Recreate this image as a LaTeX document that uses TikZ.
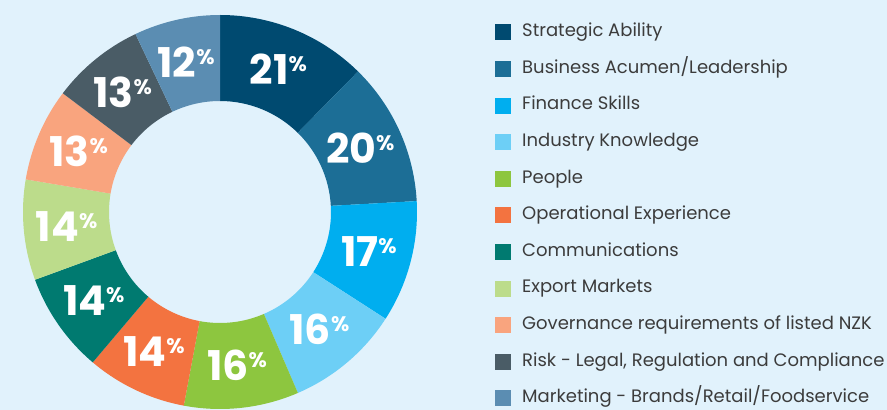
\documentclass[tikz,border=0pt]{standalone}
\usepackage{fontspec}
\setmainfont{Poppins}
\usepackage{xcolor}

\definecolor{bgblue}{HTML}{E1F2FC}
\definecolor{cStrat}{HTML}{004A70}
\definecolor{cBusin}{HTML}{1C6E96}
\definecolor{cFinan}{HTML}{00AEEF}
\definecolor{cIndus}{HTML}{6DCFF6}
\definecolor{cPeopl}{HTML}{8DC63F}
\definecolor{cOpera}{HTML}{F37340}
\definecolor{cCommu}{HTML}{007A70}
\definecolor{cExpor}{HTML}{BCDC8B}
\definecolor{cGover}{HTML}{F9A47E}
\definecolor{cRisk}{HTML}{4A5C66}
\definecolor{cMarke}{HTML}{5B8DB2}
\definecolor{legtxt}{HTML}{3C3C3C}

\newcommand{\pctsign}{\raisebox{13pt}{\fontsize{21}{21}\selectfont\%}}

\tikzset{
  pctlabel/.style={text=white, inner sep=0pt, text depth=0pt,
    font=\fontsize{41}{41}\selectfont\bfseries},
  legbox/.style={minimum size=16pt, inner sep=0pt},
  legtext/.style={anchor=west, inner sep=0pt, text height=0.85em, text depth=0pt,
    text=legtxt, font=\fontsize{18}{18}\selectfont}
}

\begin{document}
\begin{tikzpicture}[x=1pt,y=1pt]
		\fill[bgblue] (0,0) rectangle (887,410);
		\useasboundingbox (0,0) rectangle (887,410);
		\begin{scope}[shift={(220,198)}]
		\fill[cStrat] (90:197) arc[start angle=90, end angle=45.53, radius=197] -- (45.53:111) arc[start angle=45.53, end angle=90, radius=111] -- cycle;
		\fill[cBusin] (45.53:197) arc[start angle=45.53, end angle=3.18, radius=197] -- (3.18:111) arc[start angle=3.18, end angle=45.53, radius=111] -- cycle;
		\fill[cFinan] (3.18:197) arc[start angle=3.18, end angle=-32.82, radius=197] -- (-32.82:111) arc[start angle=-32.82, end angle=3.18, radius=111] -- cycle;
		\fill[cIndus] (-32.82:197) arc[start angle=-32.82, end angle=-66.71, radius=197] -- (-66.71:111) arc[start angle=-66.71, end angle=-32.82, radius=111] -- cycle;
		\fill[cPeopl] (-66.71:197) arc[start angle=-66.71, end angle=-100.59, radius=197] -- (-100.59:111) arc[start angle=-100.59, end angle=-66.71, radius=111] -- cycle;
		\fill[cOpera] (-100.59:197) arc[start angle=-100.59, end angle=-130.24, radius=197] -- (-130.24:111) arc[start angle=-130.24, end angle=-100.59, radius=111] -- cycle;
		\fill[cCommu] (-130.24:197) arc[start angle=-130.24, end angle=-159.88, radius=197] -- (-159.88:111) arc[start angle=-159.88, end angle=-130.24, radius=111] -- cycle;
		\fill[cExpor] (-159.88:197) arc[start angle=-159.88, end angle=-189.53, radius=197] -- (-189.53:111) arc[start angle=-189.53, end angle=-159.88, radius=111] -- cycle;
		\fill[cGover] (-189.53:197) arc[start angle=-189.53, end angle=-217.06, radius=197] -- (-217.06:111) arc[start angle=-217.06, end angle=-189.53, radius=111] -- cycle;
		\fill[cRisk] (-217.06:197) arc[start angle=-217.06, end angle=-244.59, radius=197] -- (-244.59:111) arc[start angle=-244.59, end angle=-217.06, radius=111] -- cycle;
		\fill[cMarke] (-244.59:197) arc[start angle=-244.59, end angle=-270, radius=197] -- (-270:111) arc[start angle=-270, end angle=-244.59, radius=111] -- cycle;
		% percentages
		\node[pctlabel] (pStrat) at (67.76:154) {21\pctsign};
		\node[pctlabel] (pBusin) at (24.35:154) {20\pctsign};
		\node[pctlabel] (pFinan) at (-14.82:154) {17\pctsign};
		\node[pctlabel] (pIndus) at (-49.76:154) {16\pctsign};
		\node[pctlabel] (pPeopl) at (-83.65:154) {16\pctsign};
		\node[pctlabel] (pOpera) at (-115.41:154) {14\pctsign};
		\node[pctlabel] (pCommu) at (-145.06:154) {14\pctsign};
		\node[pctlabel] (pExpor) at (-174.71:154) {14\pctsign};
		\node[pctlabel] (pGover) at (-203.29:154) {13\pctsign};
		\node[pctlabel] (pRisk) at (-230.82:154) {13\pctsign};
		\node[pctlabel] (pMarke) at (-257.29:154) {12\pctsign};
		\end{scope}
		% legend
		\node[legbox, fill=cStrat] (kStrat) at (503,377.5) {};
		\node[legtext] (tStrat) at (522,377.5) {Strategic Ability};
		\node[legbox, fill=cBusin] (kBusin) at (503,340.9) {};
		\node[legtext] (tBusin) at (522,340.9) {Business Acumen/Leadership};
		\node[legbox, fill=cFinan] (kFinan) at (503,304.3) {};
		\node[legtext] (tFinan) at (522,304.3) {Finance Skills};
		\node[legbox, fill=cIndus] (kIndus) at (503,267.7) {};
		\node[legtext] (tIndus) at (522,267.7) {Industry Knowledge};
		\node[legbox, fill=cPeopl] (kPeopl) at (503,231.1) {};
		\node[legtext] (tPeopl) at (522,231.1) {People};
		\node[legbox, fill=cOpera] (kOpera) at (503,194.5) {};
		\node[legtext] (tOpera) at (522,194.5) {Operational Experience};
		\node[legbox, fill=cCommu] (kCommu) at (503,157.9) {};
		\node[legtext] (tCommu) at (522,157.9) {Communications};
		\node[legbox, fill=cExpor] (kExpor) at (503,121.3) {};
		\node[legtext] (tExpor) at (522,121.3) {Export Markets};
		\node[legbox, fill=cGover] (kGover) at (503,84.7) {};
		\node[legtext] (tGover) at (522,84.7) {Governance requirements of listed NZK};
		\node[legbox, fill=cRisk] (kRisk) at (503,48.1) {};
		\node[legtext] (tRisk) at (522,48.1) {Risk - Legal, Regulation and Compliance};
		\node[legbox, fill=cMarke] (kMarke) at (503,11.5) {};
		\node[legtext] (tMarke) at (522,11.5) {Marketing - Brands/Retail/Foodservice};
	\end{tikzpicture}
\end{document}
